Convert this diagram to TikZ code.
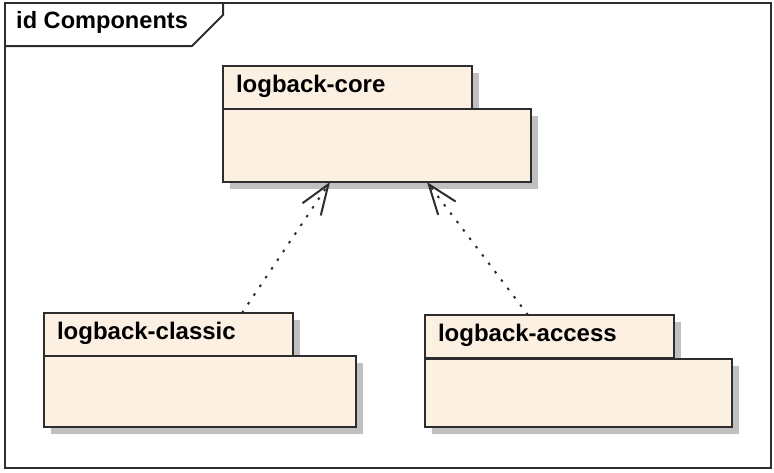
\documentclass[tikz,border=0pt]{standalone}
\usepackage{fontspec}
\setmainfont{Liberation Sans}
\usetikzlibrary{arrows.meta,calc,shadows}

\definecolor{pkgfill}{RGB}{251,240,226}
\definecolor{pkgline}{RGB}{45,45,45}
\definecolor{shadowgray}{RGB}{192,192,192}

\begin{document}
\begin{tikzpicture}[x=1pt,y=-1pt,
  boxshadow/.style={general shadow={fill=shadowgray, shadow xshift=7pt, shadow yshift=-7pt}},
  pkgtab/.style={draw=pkgline, line width=2pt, fill=pkgfill, boxshadow,
    anchor=north west, outer sep=0pt, inner xsep=13pt, inner ysep=0pt,
    minimum width=249pt, minimum height=43pt, text width=223pt, align=left,
    text height=17pt, text depth=7pt, font=\fontsize{24}{24}\selectfont\bfseries},
  pkgbody/.style={draw=pkgline, line width=2pt, fill=pkgfill, boxshadow,
    anchor=north west, outer sep=0pt, inner sep=0pt},
  dep/.style={draw=pkgline, line width=2pt, dash pattern=on 2.5pt off 8pt,
    -{Straight Barb[length=30pt,width=22pt,line width=2pt]}},
  framestyle/.style={draw=pkgline, line width=2pt}
]
\useasboundingbox (0,0) rectangle (774,472);

% diagram frame with its name tab
\draw[framestyle] (5,3) rectangle (771,468);
\draw[framestyle] (5,46) -- (192,46) -- (223,15) -- (223,3);
\node[anchor=base west, inner sep=0pt, font=\fontsize{23.6}{23.6}\selectfont\bfseries] (title) at (16,28) {id Components};

% logback-core package
\node[pkgtab] (coretab) at (223,66) {logback-core};
\node[pkgbody, minimum width=308pt, minimum height=73pt] (corebody) at (223,109) {};

% logback-classic package
\node[pkgtab] (classictab) at (44,313) {logback-classic};
\node[pkgbody, minimum width=312pt, minimum height=71pt] (classicbody) at (44,356) {};

% logback-access package
\node[pkgtab] (accesstab) at (425,315) {logback-access};
\node[pkgbody, minimum width=307pt, minimum height=68pt] (accessbody) at (425,359) {};

% dependencies on logback-core
\draw[dep] ($(classictab.north west)+(198,0)$) -- ($(corebody.south west)+(107,0)$);
\draw[dep] ($(accesstab.north west)+(103,0)$) -- ($(corebody.south west)+(204,0)$);
\end{tikzpicture}
\end{document}
